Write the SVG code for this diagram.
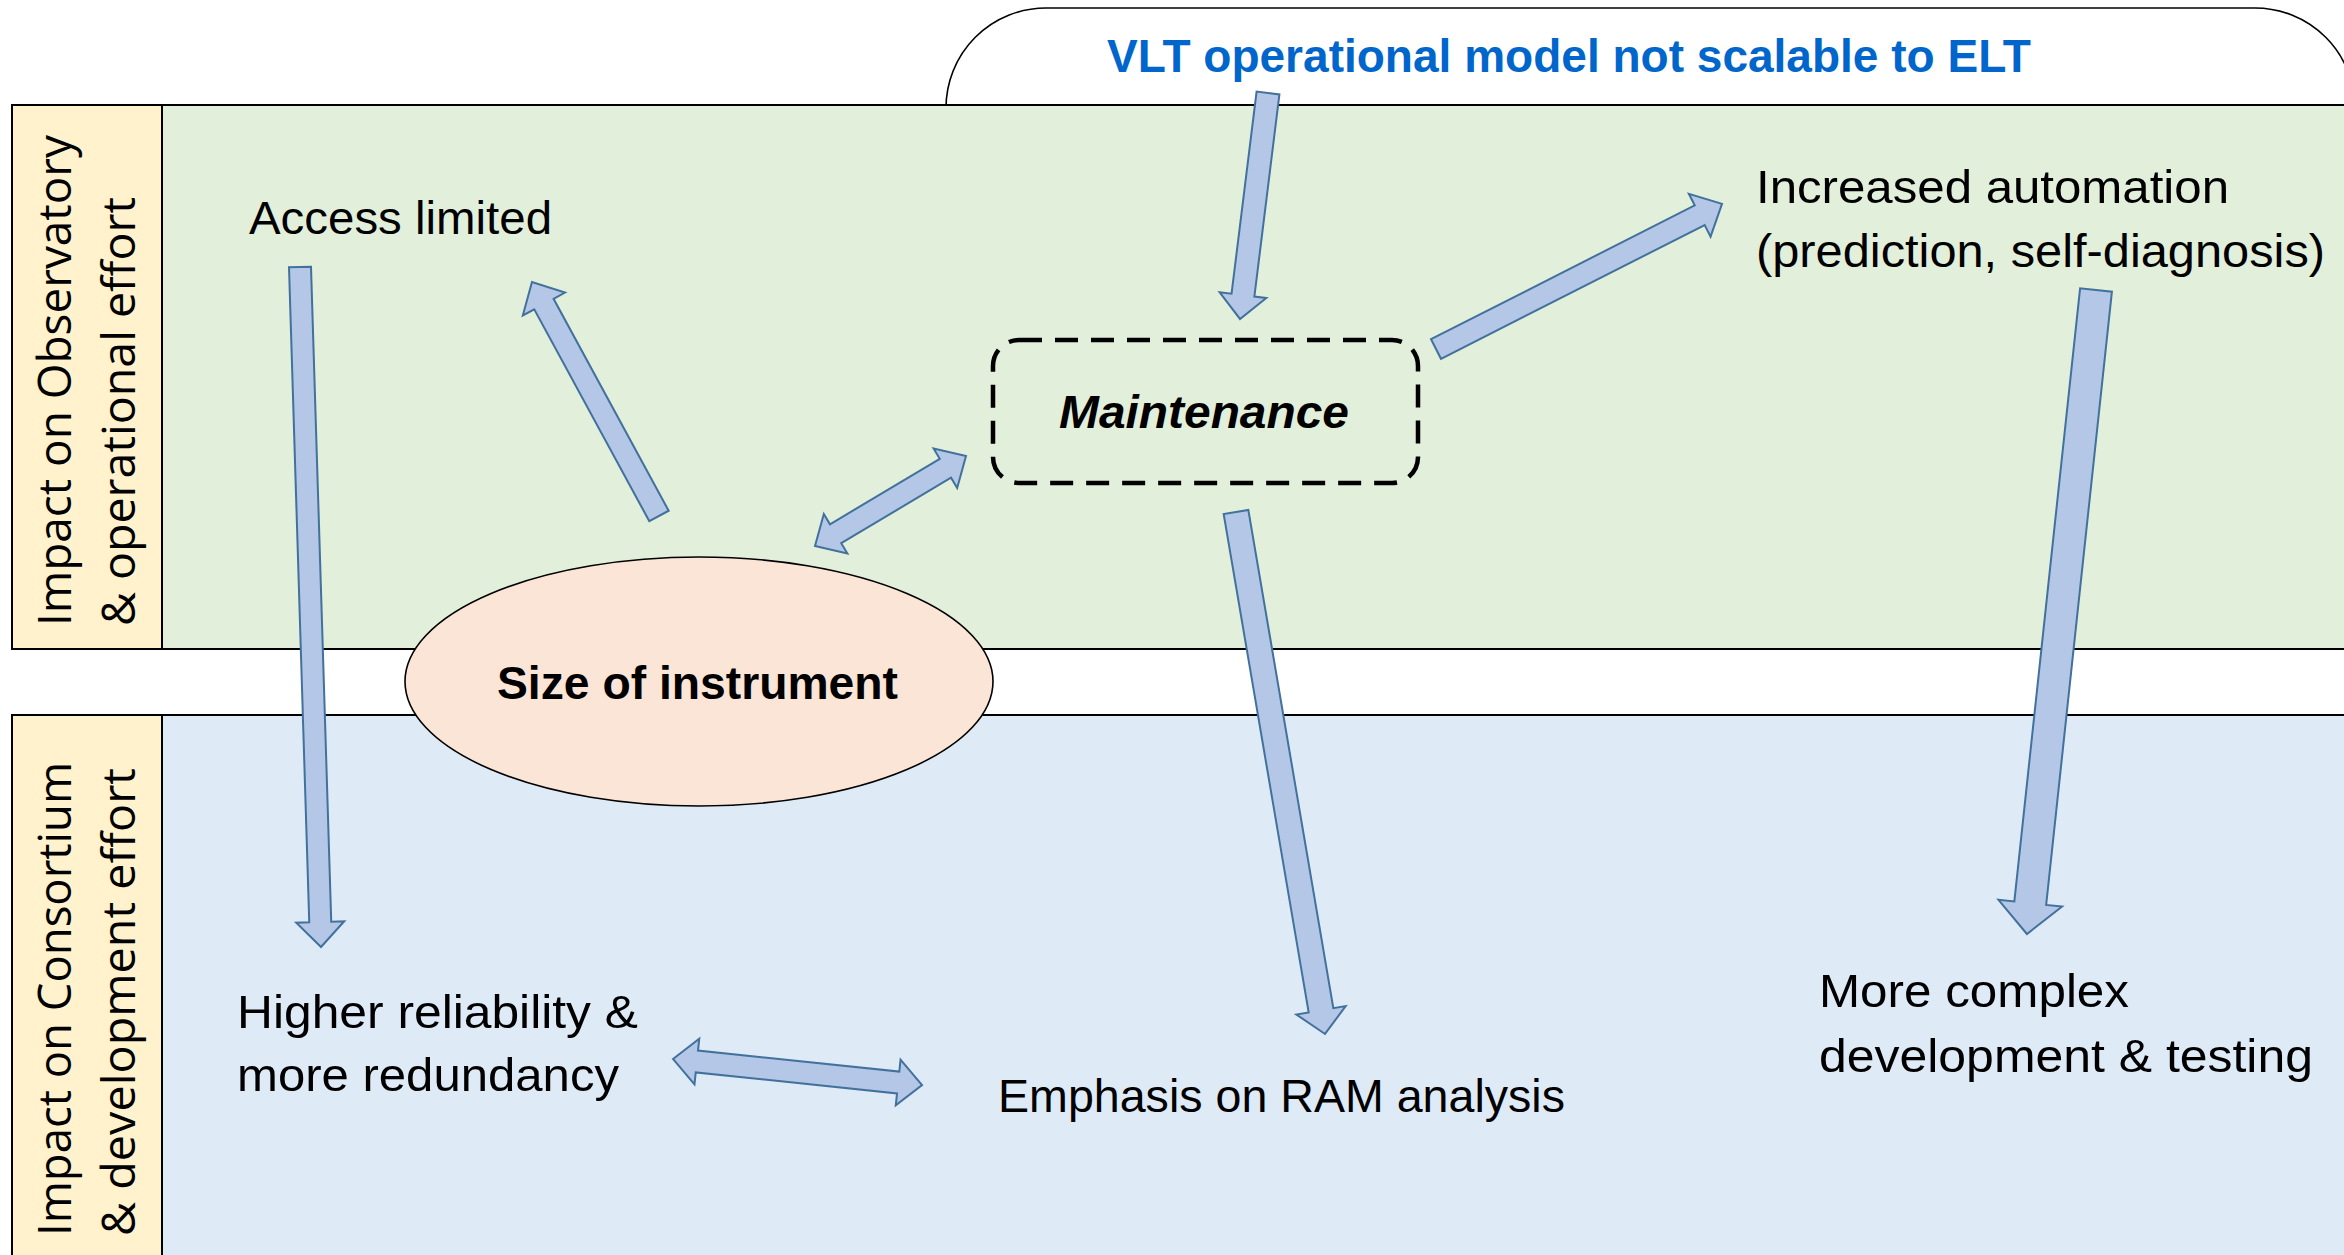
<svg xmlns="http://www.w3.org/2000/svg" width="2344" height="1255" viewBox="0 0 2344 1255">
  <style>
    .band { stroke: #000; stroke-width: 2; }
    .lbl { font-family: "Open Sans", "DejaVu Sans", sans-serif; font-size: 45px; fill: #000; }
    .txt { font-family: "Liberation Sans", Arial, sans-serif; font-size: 47px; fill: #000; }
    .bold { font-weight: bold; }
    .arrow { fill: #B4C7E7; stroke: #41719C; stroke-width: 2; stroke-linejoin: miter; }
  </style>

  <rect width="2344" height="1255" fill="#FFFFFF"/>

  <!-- header callout behind the upper band -->
  <g id="vlt-model">
    <rect x="946" y="8" width="1409" height="220" rx="100" ry="100" fill="#FFFFFF" stroke="#000" stroke-width="1.6"/>
    <text x="1107" y="72" class="txt bold" fill="#0066CC" style="fill:#0066CC" textLength="924" lengthAdjust="spacingAndGlyphs">VLT operational model not scalable to ELT</text>
  </g>

  <!-- swimlane: observatory -->
  <g id="lane-observatory">
    <rect x="12" y="105" width="2350" height="544" fill="#E2EFDA" class="band"/>
    <rect x="12" y="105" width="150" height="544" fill="#FFF2CC" class="band"/>
    <text class="lbl" transform="translate(71,626) rotate(-90)" textLength="491" lengthAdjust="spacingAndGlyphs">Impact on Observatory</text>
    <text class="lbl" transform="translate(135,626) rotate(-90)" textLength="429" lengthAdjust="spacingAndGlyphs">&amp; operational effort</text>
  </g>

  <!-- swimlane: consortium -->
  <g id="lane-consortium">
    <rect x="12" y="715" width="2350" height="560" fill="#DEEBF7" class="band"/>
    <rect x="12" y="715" width="150" height="560" fill="#FFF2CC" class="band"/>
    <text class="lbl" transform="translate(71,1236) rotate(-90)" textLength="474" lengthAdjust="spacingAndGlyphs">Impact on Consortium</text>
    <text class="lbl" transform="translate(135,1236) rotate(-90)" textLength="468" lengthAdjust="spacingAndGlyphs">&amp; development effort</text>
  </g>

  <g id="size-of-instrument">
    <ellipse cx="699" cy="681.5" rx="294" ry="124.5" fill="#FBE5D6" stroke="#000" stroke-width="1.6"/>
    <text x="497" y="699" class="txt bold" textLength="401" lengthAdjust="spacingAndGlyphs">Size of instrument</text>
  </g>

  <g id="maintenance">
    <rect x="993" y="340" width="425" height="143" rx="26" ry="26" fill="none" stroke="#000" stroke-width="4.5" stroke-dasharray="23 13"/>
    <text x="1059" y="428" class="txt bold" font-style="italic" textLength="290" lengthAdjust="spacingAndGlyphs">Maintenance</text>
  </g>

  <g id="access-limited">
    <text x="249" y="234" class="txt" textLength="303" lengthAdjust="spacingAndGlyphs">Access limited</text>
  </g>

  <g id="increased-automation">
    <text x="1756" y="203" class="txt" textLength="473" lengthAdjust="spacingAndGlyphs">Increased automation</text>
    <text x="1756" y="267" class="txt" textLength="569" lengthAdjust="spacingAndGlyphs">(prediction, self-diagnosis)</text>
  </g>

  <g id="higher-reliability">
    <text x="237" y="1028" class="txt" textLength="401" lengthAdjust="spacingAndGlyphs">Higher reliability &amp;</text>
    <text x="237" y="1091" class="txt" textLength="382" lengthAdjust="spacingAndGlyphs">more redundancy</text>
  </g>

  <g id="ram-analysis">
    <text x="998" y="1112" class="txt" textLength="567" lengthAdjust="spacingAndGlyphs">Emphasis on RAM analysis</text>
  </g>

  <g id="complex-development">
    <text x="1819" y="1007" class="txt" textLength="310" lengthAdjust="spacingAndGlyphs">More complex</text>
    <text x="1819" y="1072" class="txt" textLength="494" lengthAdjust="spacingAndGlyphs">development &amp; testing</text>
  </g>

  <!-- block arrows, drawn along +x and rotated into place -->
  <g id="connectors">
    <path class="arrow" transform="translate(300,267) rotate(88.23)" d="M0,-11 L655.3,-11 L655.3,-24 L680.3,0 L655.3,24 L655.3,11 L0,11 Z"/>
    <path class="arrow" transform="translate(659,516) rotate(-118.5)" d="M0,-11 L241.2,-11 L241.2,-24 L266.2,0 L241.2,24 L241.2,11 L0,11 Z"/>
    <path class="arrow" transform="translate(815,546) rotate(-30.8)" d="M0,0 L24,-23 L24,-11 L151.8,-11 L151.8,-23 L175.8,0 L151.8,23 L151.8,11 L24,11 L24,23 Z"/>
    <path class="arrow" transform="translate(1268,93) rotate(97.06)" d="M0,-11.5 L203.7,-11.5 L203.7,-23.5 L227.7,0 L203.7,23.5 L203.7,11.5 L0,11.5 Z"/>
    <path class="arrow" transform="translate(1436,349) rotate(-26.9)" d="M0,-11 L295.7,-11 L295.7,-24 L320.7,0 L295.7,24 L295.7,11 L0,11 Z"/>
    <path class="arrow" transform="translate(1236,512) rotate(80.32)" d="M0,-12.5 L505.5,-12.5 L505.5,-25 L529.5,0 L505.5,25 L505.5,12.5 L0,12.5 Z"/>
    <path class="arrow" transform="translate(2096,290) rotate(96.12)" d="M0,-16 L616.7,-16 L616.7,-32 L647.7,0 L616.7,32 L616.7,16 L0,16 Z"/>
    <path class="arrow" transform="translate(673,1059) rotate(5.96)" d="M0,0 L24,-23 L24,-11 L226.4,-11 L226.4,-23 L250.4,0 L226.4,23 L226.4,11 L24,11 L24,23 Z"/>
  </g>
</svg>
